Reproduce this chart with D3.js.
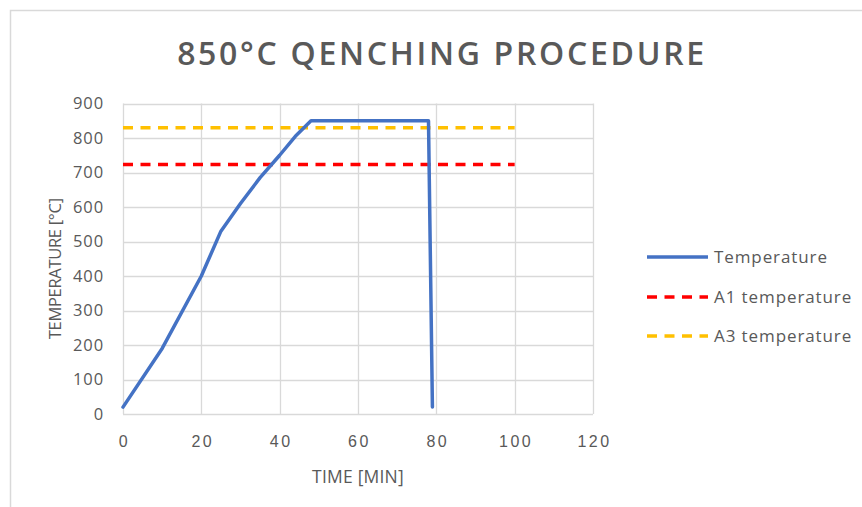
<!DOCTYPE html>
<html>
<head>
<meta charset="utf-8">
<script src="https://cdn.jsdelivr.net/npm/d3@7"></script>
<style>
  html, body { margin: 0; padding: 0; background: #fff; }
  svg { display: block; font-family: "Open Sans", "Noto Sans", sans-serif; }
</style>
</head>
<body>
<svg id="chart" width="862" height="507"></svg>
<script>
// Heat-treatment profile: time in minutes, temperature in °C
const timeMin = [0, 10, 20, 25, 30, 35, 40, 44, 48, 78, 79];
const tempC   = [20, 190, 400, 530, 610, 685, 750, 805, 850, 850, 20];

// Critical temperatures, drawn from t = 0 to t = 100
const a1Time = [0, 100];
const a1Temp = [723, 723];
const a3Time = [0, 100];
const a3Temp = [830, 830];

const xTicks = [0, 20, 40, 60, 80, 100, 120];
const yTicks = [0, 100, 200, 300, 400, 500, 600, 700, 800, 900];

const seriesNames = ["Temperature", "A1 temperature", "A3 temperature"];
const seriesColors = ["#4472C4", "#FF0000", "#FFC000"];

const svg = d3.select("#chart");
const textColor = "#595959";
const gridColor = "#d9d9d9";

// outer chart frame
svg.append("rect")
  .attr("x", 10.5).attr("y", 10.5)
  .attr("width", 900).attr("height", 600)
  .attr("fill", "#fff").attr("stroke", gridColor).attr("stroke-width", 1.5);

const plot = { left: 123, right: 593, top: 103.5, bottom: 414 };

const x = d3.scaleLinear().domain([0, 120]).range([plot.left, plot.right]);
const y = d3.scaleLinear().domain([0, 900]).range([plot.bottom, plot.top]);

// gridlines
const grid = svg.append("g");
grid.selectAll(".hg").data(yTicks).join("line")
  .attr("x1", plot.left).attr("x2", plot.right)
  .attr("y1", d => Math.round(y(d)) + 0.5).attr("y2", d => Math.round(y(d)) + 0.5)
  .attr("stroke", gridColor).attr("stroke-width", 1.3);
grid.selectAll(".vg").data(xTicks).join("line")
  .attr("y1", plot.top).attr("y2", plot.bottom)
  .attr("x1", d => Math.round(x(d)) + 0.5).attr("x2", d => Math.round(x(d)) + 0.5)
  .attr("stroke", gridColor).attr("stroke-width", 1.3);

// axes (labels only; lines come from the grid)
const yAxis = svg.append("g")
  .attr("transform", `translate(${plot.left - 19},0)`)
  .call(d3.axisLeft(y).tickValues(yTicks).tickSize(0).tickPadding(0));
yAxis.select(".domain").remove();
yAxis.selectAll("text")
  .attr("fill", textColor).style("font-size", "16.5px")
  .style("letter-spacing", "0.9px")
  .style("font-family", '"Open Sans", sans-serif');

const xAxis = svg.append("g")
  .attr("transform", `translate(1,${plot.bottom + 19})`)
  .call(d3.axisBottom(x).tickValues(xTicks).tickSize(0).tickPadding(0));
xAxis.select(".domain").remove();
xAxis.selectAll("text")
  .attr("fill", textColor).style("font-size", "16px")
  .style("letter-spacing", "2.5px")
  .attr("dy", "0.9em");

// axis titles
svg.append("text")
  .attr("x", x(60)).attr("y", 483)
  .attr("text-anchor", "middle")
  .attr("fill", textColor).style("font-size", "17.5px")
  .style("letter-spacing", "0.2px")
  .text("TIME [MIN]");

svg.append("text")
  .attr("transform", `translate(61,${(plot.top + plot.bottom) / 2 + 10}) rotate(-90)`)
  .attr("text-anchor", "middle")
  .attr("fill", textColor).style("font-size", "16.5px")
  .style("letter-spacing", "-0.3px")
  .text("TEMPERATURE [°C]");

// title
svg.append("text")
  .attr("x", 442).attr("y", 65)
  .attr("text-anchor", "middle")
  .attr("fill", textColor)
  .style("font-size", "32px").style("font-weight", 600)
  .style("letter-spacing", "2.7px")
  .text("850°C QENCHING PROCEDURE");

// series
const line = d3.line().x(d => x(d[0])).y(d => y(d[1]));

svg.append("path")
  .datum(d3.zip(a1Time, a1Temp))
  .attr("d", line).attr("fill", "none")
  .attr("stroke", seriesColors[1]).attr("stroke-width", 3.5)
  .attr("stroke-dasharray", "10,7.5");

svg.append("path")
  .datum(d3.zip(a3Time, a3Temp))
  .attr("d", line).attr("fill", "none")
  .attr("stroke", seriesColors[2]).attr("stroke-width", 3.5)
  .attr("stroke-dasharray", "10,7.5");

svg.append("path")
  .datum(d3.zip(timeMin, tempC))
  .attr("d", line).attr("fill", "none")
  .attr("stroke", seriesColors[0]).attr("stroke-width", 3.5)
  .attr("stroke-linejoin", "round").attr("stroke-linecap", "round");

// legend
const legendY = [257, 297, 336];
const legend = svg.append("g");
seriesNames.forEach((name, i) => {
  legend.append("line")
    .attr("x1", 647).attr("x2", 708)
    .attr("y1", legendY[i]).attr("y2", legendY[i])
    .attr("stroke", seriesColors[i]).attr("stroke-width", 3.5)
    .attr("stroke-dasharray", i === 0 ? null : "10,7.5");
  legend.append("text")
    .attr("x", 714).attr("y", legendY[i]).attr("dy", "0.35em")
    .attr("fill", textColor).style("font-size", "17px")
    .style("letter-spacing", "0.9px")
    .text(name);
});
</script>
</body>
</html>
